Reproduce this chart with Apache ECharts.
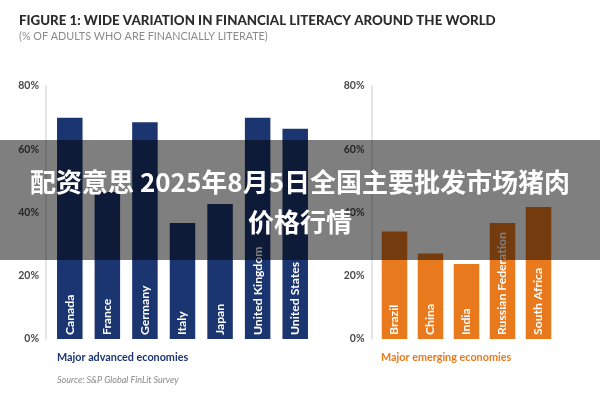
<!DOCTYPE html>
<html>
<head>
<meta charset="utf-8">
<script src="https://cdn.jsdelivr.net/npm/echarts@6/dist/echarts.min.js"></script>
<style>
  html, body { margin: 0; padding: 0; background: #fff; }
  #chart, #banner { position: absolute; left: 0; top: 0; width: 600px; height: 400px; }
  #chart { filter: blur(0.75px); }
</style>
</head>
<body>
<div id="chart"></div>
<div id="banner"></div>
<script>
var advancedNames = ['Canada', 'France', 'Germany', 'Italy', 'Japan', 'United Kingdom', 'United States'];
var advancedValues = [70, 46.5, 68.5, 36.7, 42.7, 70, 66.5];
var emergingNames = ['Brazil', 'China', 'India', 'Russian Federation', 'South Africa'];
var emergingValues = [34, 27, 23.7, 36.7, 41.7];

var titleText = 'FIGURE 1: WIDE VARIATION IN FINANCIAL LITERACY AROUND THE WORLD';
var subText = '(% OF ADULTS WHO ARE FINANCIALLY LITERATE)';
var advancedCaption = 'Major advanced economies';
var emergingCaption = 'Major emerging economies';
var sourceText = 'Source: S&P Global FinLit Survey';
var bannerLines = ['配资意思 2025年8月5日全国主要批发市场猪肉', '价格行情'];

var navy = '#1b3571';
var orange = '#e9791d';
var font = 'Lato';

function caption(x, y, text, color, size, weight, style) {
  return {
    type: 'text', x: x, y: y,
    style: {
      text: text, fill: color, fontFamily: font, fontSize: size,
      fontWeight: weight, fontStyle: style || 'normal', verticalAlign: 'middle'
    }
  };
}

function yAxis(index, offset) {
  return {
    type: 'value', gridIndex: index, min: 0, max: 80, interval: 20, offset: offset,
    axisLine: { show: true, lineStyle: { color: '#dcdcdc', width: 1.5 } },
    axisTick: { show: false },
    splitLine: { show: false },
    axisLabel: {
      formatter: '{value}%', margin: 7, color: '#4a4a4a',
      fontFamily: font, fontSize: 10.5, fontWeight: 'bold'
    }
  };
}

function xAxis(index, names) {
  return {
    type: 'category', gridIndex: index, data: names,
    axisLine: { show: false }, axisTick: { show: false }, axisLabel: { show: false }
  };
}

function barSeries(index, values, color) {
  return {
    type: 'bar', xAxisIndex: index, yAxisIndex: index, data: values,
    barWidth: 25.5, silent: true,
    itemStyle: { color: color },
    label: {
      show: true, position: 'insideBottom', rotate: 90, distance: 4,
      align: 'left', verticalAlign: 'middle',
      formatter: '{b}', color: '#fff',
      fontFamily: font, fontSize: 12.2, fontWeight: 'bold'
    }
  };
}

var chart = echarts.init(document.getElementById('chart'));
chart.setOption({
  animation: false,
  backgroundColor: '#fff',
  grid: [
    { left: 51, top: 86, width: 263, height: 253 },
    { left: 376.5, top: 86, width: 180, height: 253 }
  ],
  xAxis: [xAxis(0, advancedNames), xAxis(1, emergingNames)],
  yAxis: [yAxis(0, 5), yAxis(1, 5)],
  series: [barSeries(0, advancedValues, navy), barSeries(1, emergingValues, orange)],
  graphic: [
    caption(19, 21, titleText, '#2c2c2c', 13.3, 900),
    caption(19, 37, subText, '#8a8a8a', 10.8, 'normal'),
    caption(57, 358, advancedCaption, navy, 10.8, 'bold'),
    caption(381, 358, emergingCaption, orange, 10.8, 'bold'),
    caption(57, 380, sourceText, '#888', 9, 'normal', 'italic')
  ]
});

var banner = echarts.init(document.getElementById('banner'));
banner.setOption({
  animation: false,
  graphic: [
    {
      type: 'rect',
      shape: { x: 0, y: 140, width: 600, height: 120 },
      style: { fill: 'rgba(0,0,0,0.5)' }
    },
    {
      type: 'text', x: 300, y: 182,
      style: {
        text: bannerLines[0], fill: '#fff', fontSize: 26, fontWeight: 700,
        fontFamily: 'Noto Sans CJK SC', align: 'center', verticalAlign: 'middle'
      }
    },
    {
      type: 'text', x: 300, y: 222,
      style: {
        text: bannerLines[1], fill: '#fff', fontSize: 26, fontWeight: 700,
        fontFamily: 'Noto Sans CJK SC', align: 'center', verticalAlign: 'middle'
      }
    }
  ]
});
</script>
</body>
</html>
